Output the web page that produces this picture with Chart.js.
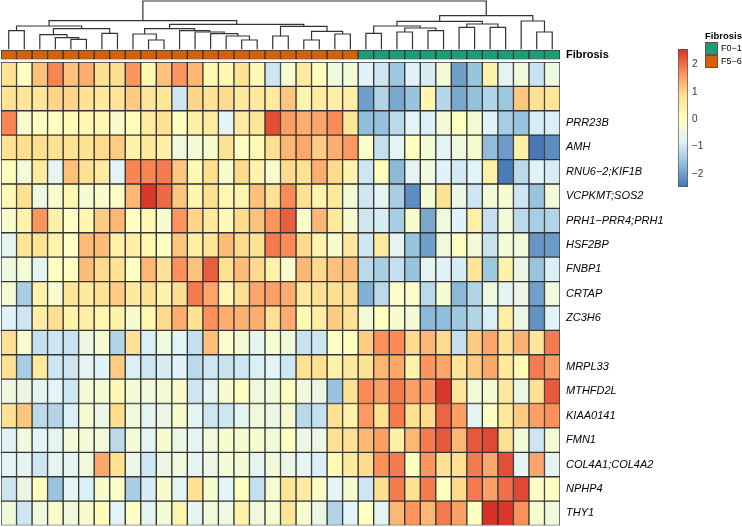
<!DOCTYPE html>
<html><head><meta charset="utf-8">
<script src="https://cdn.jsdelivr.net/npm/chart.js@4.4.1/dist/chart.umd.min.js"></script>
<style>
html,body{margin:0;padding:0;background:#fff;width:742px;height:527px;overflow:hidden;font-family:"Liberation Sans",Arial,sans-serif;}
canvas{position:absolute;}
.lt{position:absolute;font-family:"Liberation Sans",Arial,sans-serif;color:#000;white-space:nowrap;}
.box{position:absolute;width:11px;height:11px;border:1px solid #555;}
</style></head><body>
<canvas id="heat" width="742" height="527" style="left:0;top:0"></canvas>
<canvas id="annot" width="742" height="66" style="left:0;top:0"></canvas>
<canvas id="dendro" width="570" height="52" style="left:0;top:0"></canvas>
<canvas id="key" width="60" height="160" style="left:670px;top:40px"></canvas>
<div class="lt" style="left:705px;top:30px;font-size:9.5px;font-weight:bold;">Fibrosis</div>
<div class="box" style="left:705px;top:42px;background:#1B9E77"></div>
<div class="box" style="left:705px;top:55px;background:#D95F02"></div>
<div class="lt" style="left:721px;top:43px;font-size:9px;">F0−1</div>
<div class="lt" style="left:721px;top:56px;font-size:9px;">F5−6</div>
<script>
// ---- data ----
const rowLabels = ['', '', 'PRR23B', 'AMH', 'RNU6−2;KIF1B', 'VCPKMT;SOS2', 'PRH1−PRR4;PRH1', 'HSF2BP', 'FNBP1', 'CRTAP', 'ZC3H6', '', 'MRPL33', 'MTHFD2L', 'KIAA0141', 'FMN1', 'COL4A1;COL4A2', 'NPHP4', 'THY1'];
const fibrosisGroup = ['F5−6','F5−6','F5−6','F5−6','F5−6','F5−6','F5−6','F5−6','F5−6','F5−6','F5−6','F5−6','F5−6','F5−6','F5−6','F5−6','F5−6','F5−6','F5−6','F5−6','F5−6','F5−6','F5−6',
  'F0−1','F0−1','F0−1','F0−1','F0−1','F0−1','F0−1','F0−1','F0−1','F0−1','F0−1','F0−1','F0−1'];
const groupColors = {'F0−1':'#1B9E77','F5−6':'#D95F02'};

const row00 = [0.8,0.0,1.2,1.8,1.2,1.4,0.9,0.9,1.65,0.3,1.2,1.65, 1.3,0.3,0.3,0.8,0.2,-1.0,-0.2,0.6,0.1,-0.4,-0.3,-0.8, -1.0,-1.5,-0.8,-0.9,-0.3,-2.0,-1.55,0.4,-0.7,-0.4,-1.05,-0.45];
const row01 = [0.8,0.75,0.75,1.0,1.0,0.8,0.65,0.75,1.1,0.75,0.75,-1.0, 1.0,0.8,0.95,0.65,0.65,0.6,1.15,0.35,0.6,0.5,0.5,-2.0, -1.3,-1.9,-1.55,0.3,-1.25,-1.9,-1.6,-1.3,-1.5,1.15,0.85,0.75];
const rowPRR23B = [1.8,-0.15,0.05,0.05,0.15,0.25,0.3,-0.15,0.1,0.6,0.8,0.0, 0.5,0.6,-0.75,0.6,0.7,2.3,1.55,1.4,1.5,1.75,0.75,-1.65, -1.6,-1.2,-0.75,-0.85,-0.3,0.05,-0.25,-0.8,-1.4,-1.55,-0.9,-0.85];
const rowAMH = [0.85,0.9,0.9,0.85,0.8,0.8,0.95,1.1,0.4,0.65,0.45,-0.4, -0.3,-0.15,0.8,0.05,0.2,0.85,1.3,1.45,1.1,1.4,1.6,-0.1, -1.1,-0.7,0.05,-0.25,-0.7,-0.4,-0.15,-1.65,-2.05,0.45,-2.45,-2.2];
const rowRNU6 = [0.1,-0.3,0.6,-0.7,1.2,0.85,0.6,-0.75,1.8,1.8,1.9,1.15, 0.2,0.9,-0.15,0.95,0.4,-0.15,0.95,0.85,1.4,0.95,0.4,-1.0, 0.1,-1.7,-0.7,-0.4,-0.8,-0.95,-0.75,0.45,-2.4,-1.2,-0.8,-0.9];
const rowVCPKMT = [0.2,0.85,-0.4,-0.15,0.3,-0.2,-0.15,-0.05,1.3,2.5,2.05,1.15, 0.3,0.85,0.3,0.35,1.2,0.85,1.75,0.85,0.4,0.65,-0.3,-1.0, -0.7,-1.4,-2.2,-0.25,0.8,-0.5,-1.0,-0.3,-0.2,-1.0,-1.55,-0.3];
const rowPRH1 = [-0.15,0.4,1.65,0.45,-0.05,0.3,1.1,1.3,0.05,0.3,-0.2,1.65, 1.0,0.65,0.2,0.95,1.2,1.65,2.15,-0.15,1.3,0.65,-0.25,-1.0, -0.9,-1.4,-0.15,-1.9,-0.4,-0.8,0.45,-1.1,-0.3,-1.2,-1.4,-1.3];
const rowHSF2BP = [-0.7,0.75,0.8,0.4,-0.05,1.25,1.25,0.4,0.5,0.3,0.0,1.15, 0.5,0.75,1.25,0.95,0.85,1.9,1.75,0.95,0.4,-0.15,0.65,-1.0, 0.6,-0.7,-1.55,-2.0,-0.4,0.0,-0.3,-1.05,-0.3,-0.35,-2.1,-2.05];
const rowFNBP1 = [-0.4,-0.3,-0.7,0.05,0.05,1.25,0.95,0.85,0.05,1.3,0.85,1.7, 1.2,2.15,0.85,1.25,0.95,0.4,-0.15,1.3,0.95,1.2,1.25,-1.2, -1.4,-1.1,-1.55,-0.7,-0.8,-0.9,0.75,-1.5,0.4,-0.5,-1.55,-0.85];
const rowCRTAP = [-0.25,-1.4,0.4,-0.2,0.75,0.65,0.85,1.1,0.65,0.85,0.4,0.9, 1.9,1.5,0.3,0.9,1.5,1.55,1.4,0.65,0.85,0.9,0.9,-1.8, -1.2,-0.1,-0.1,-1.2,-0.25,-1.7,-1.3,-0.4,-0.7,-0.5,-2.0,-0.4];
const rowZC3H6 = [-0.8,-1.0,0.5,0.9,0.4,0.5,0.3,0.4,-0.2,0.3,0.95,1.4, 0.85,1.7,1.4,1.35,1.4,0.85,1.4,0.2,0.5,1.1,0.85,-0.3, 0.05,-0.15,-0.3,-1.7,-1.65,-1.5,-1.3,-0.85,0.5,-0.5,-2.15,-0.8];
const row11 = [0.85,-0.2,-1.1,-1.0,-1.05,-0.5,-0.25,-1.3,0.85,-0.85,-0.4,-0.75, -1.1,1.2,-0.1,-0.25,-0.7,-0.2,-0.35,-1.05,-1.0,-0.05,0.05,1.1, 1.7,1.75,0.95,1.3,0.95,-1.1,1.1,1.5,0.85,1.35,0.75,1.9];
const rowMRPL33 = [0.85,-1.4,0.65,-1.0,-1.0,-0.7,-0.8,1.1,-0.85,-1.0,-0.9,-0.8, -1.2,-1.0,-1.05,-1.0,-0.85,-0.75,-1.0,0.85,0.85,0.4,0.65,0.8, 1.3,1.45,0.4,1.65,1.5,0.75,1.1,1.45,0.65,0.2,1.9,1.55];
const rowMTHFD2L = [-0.4,-0.5,-0.7,-0.75,-1.0,-0.3,-0.25,0.2,-0.3,-0.35,-0.25,-0.15, -1.0,-0.7,-0.15,0.0,-0.4,-0.35,0.0,-0.4,-0.5,-1.55,0.85,1.75, 1.55,1.9,1.55,1.65,2.5,0.75,-0.3,-0.2,0.65,-0.5,0.85,2.2];
const rowKIAA0141 = [0.85,1.15,-1.2,-1.3,-0.85,-0.25,-0.5,0.9,-0.35,-0.7,-0.5,-0.15, -0.7,-1.0,-1.0,-0.7,-0.35,-0.5,-0.25,-1.2,-1.1,0.85,0.4,1.6, 0.85,1.9,0.85,0.95,2.1,1.55,-0.7,-0.05,0.65,1.1,1.55,1.7];
const rowFMN1 = [-0.8,-0.4,-0.75,-0.7,-0.3,-0.3,-0.35,-1.2,-0.3,-0.7,-0.2,-0.5, -0.7,-0.35,-0.2,-0.2,-0.2,-0.35,-0.05,-0.5,-0.5,0.85,0.85,1.3, 1.55,0.45,1.3,1.9,2.2,1.3,2.2,2.35,0.85,-0.3,-1.0,-0.25];
const rowCOL4A1 = [-0.75,-0.7,-1.0,-0.7,-0.7,-0.35,1.45,0.85,-0.5,-1.0,-0.5,-0.4, -0.7,-0.5,-0.3,-0.25,-0.7,-0.35,-0.5,-0.7,-0.85,0.2,0.65,0.95, 1.7,1.9,0.05,1.65,0.85,0.85,1.9,1.45,2.3,-0.7,1.5,-0.7];
const rowNPHP4 = [-1.0,-0.5,0.05,-1.55,-0.7,-0.85,-0.15,-0.05,-1.4,-0.9,-0.15,-0.7, 0.85,-0.2,-0.75,0.05,-1.1,-0.25,0.75,0.6,-0.05,-0.75,-0.2,-1.0, 0.9,1.9,0.85,1.9,0.05,0.95,1.9,1.55,2.0,2.35,-0.05,0.05];
const rowTHY1 = [-0.35,-1.0,-0.4,-0.15,-0.35,-0.15,0.15,-0.75,-0.05,-0.7,-0.3,0.35, -0.7,-0.35,-0.4,0.4,-0.35,-0.25,0.75,-0.2,-0.5,-1.3,-0.75,0.05, -0.7,1.3,1.65,1.3,1.9,1.55,0.05,2.55,2.5,1.7,-0.2,-0.35];

const rows = [row00,row01,rowPRR23B,rowAMH,rowRNU6,rowVCPKMT,rowPRH1,rowHSF2BP,rowFNBP1,rowCRTAP,rowZC3H6,row11,rowMRPL33,rowMTHFD2L,rowKIAA0141,rowFMN1,rowCOL4A1,rowNPHP4,rowTHY1];

// column dendrogram: merges [left, right] (negative = leaf, positive = merge number) and heights
const mergeLeft  = [-1,-5,-4,-3,-7,4,1,-10,-9,-16,-15,-14,-13,-12,9,-18,-20,-22,17,16,15,7,-24,-26,-28,24,23,-30,-32,28,27,-35,-34,31,22];
const mergeRight = [-2,-6,2,3,-8,5,6,-11,8,-17,10,11,12,13,14,-19,-21,-23,18,19,20,21,-25,-27,-29,25,26,-31,-33,29,30,-36,32,33,34];
const mergeHeight = [18.6,10,11.6,14.6,16,20.6,23.3,9.3,15.3,9.3,13.3,15.6,17.3,18.6,20.6,13.3,9.3,15.3,18,23,25,28.6,16,17.3,18.6,21.3,23.3,22,22,25.3,28,17.3,28.3,33.6,48.3];

const keyMin = -2.48, keyMax = 2.57;
const keyTicks = [-2,-1,0,1,2];
const palette = ['#4575B4','#91BFDB','#E0F3F8','#FFFFBF','#FEE090','#FC8D59','#D73027'];

// ---- helpers ----
const nCols = fibrosisGroup.length;
function hex2rgb(h){return [parseInt(h.slice(1,3),16),parseInt(h.slice(3,5),16),parseInt(h.slice(5,7),16)];}
const palRGB = palette.map(hex2rgb);
function valueColor(v){
  let t=(v-keyMin)/(keyMax-keyMin); t=Math.max(0,Math.min(1,t));
  const p=t*(palette.length-1); const i=Math.min(palette.length-2,Math.floor(p)); const f=p-i;
  const a=palRGB[i], b=palRGB[i+1];
  return 'rgb('+a.map((c,k)=>Math.round(c+(b[k]-c)*f)).join(',')+')';
}
const minus = s => String(s).replace('-', '−');
function fixWidth(w){ return s => { s.width = w; s.paddingTop = 0; s.paddingBottom = 0; }; }

// ---- heatmap ----
const heatSets = [];
for (let c=0;c<nCols;c++){
  heatSets.push({
    label:'sample '+(c+1),
    data: rows.map(()=>1),
    backgroundColor: rows.map(r=>valueColor(r[c])),
    borderColor:'#333', borderWidth:1, borderSkipped:false,
    categoryPercentage:1, barPercentage:1
  });
}
new Chart(document.getElementById('heat'), {
  type:'bar',
  data:{labels:rowLabels, datasets:heatSets},
  options:{
    indexAxis:'y', responsive:false, animation:false,
    layout:{padding:{left:1,top:62,bottom:1.5,right:0}},
    plugins:{legend:{display:false}, tooltip:{enabled:false}},
    scales:{
      x:{stacked:true, display:false, min:0, max:nCols},
      y:{stacked:true, position:'right', grid:{display:false, drawTicks:false}, border:{display:false},
         ticks:{font:{family:'Liberation Sans', size:11, style:'italic'}, color:'#000', padding:6, autoSkip:false},
         afterFit:fixWidth(182)}
    }
  }
});

// ---- annotation row ----
const annSets = fibrosisGroup.map((g,c)=>({
  label:g, data:[1], backgroundColor:groupColors[g],
  borderColor:'#333', borderWidth:1, borderSkipped:false,
  categoryPercentage:1, barPercentage:1
}));
new Chart(document.getElementById('annot'), {
  type:'bar',
  data:{labels:['Fibrosis'], datasets:annSets},
  options:{
    indexAxis:'y', responsive:false, animation:false,
    layout:{padding:{left:1,top:50,bottom:6.5,right:0}},
    plugins:{legend:{display:false}, tooltip:{enabled:false}},
    scales:{
      x:{stacked:true, display:false, min:0, max:nCols},
      y:{stacked:true, position:'right', grid:{display:false, drawTicks:false}, border:{display:false},
         ticks:{font:{family:'Liberation Sans', size:11, weight:'bold'}, color:'#000', padding:6},
         afterFit:fixWidth(182)}
    }
  }
});

// ---- dendrogram ----
const nodeX = [], nodeH = [];
function pos(id){ return id<0 ? [(-id-1)+0.5, 0] : [nodeX[id-1], nodeH[id-1]]; }
const dendroSets = [];
for (let m=0;m<mergeLeft.length;m++){
  const [xa,ha]=pos(mergeLeft[m]); const [xb,hb]=pos(mergeRight[m]); const h=mergeHeight[m];
  nodeX.push((xa+xb)/2); nodeH.push(h);
  dendroSets.push({data:[{x:xa,y:ha},{x:xa,y:h},{x:xb,y:h},{x:xb,y:hb}], showLine:true, pointRadius:0,
    borderColor:'#333', borderWidth:1.2, fill:false, clip:false, tension:0});
}
new Chart(document.getElementById('dendro'), {
  type:'scatter',
  data:{datasets:dendroSets},
  options:{
    responsive:false, animation:false,
    layout:{padding:{left:1,right:10,top:1,bottom:2.7}},
    plugins:{legend:{display:false}, tooltip:{enabled:false}},
    scales:{x:{type:'linear',min:0,max:nCols,display:false}, y:{type:'linear',min:0,max:48.3,display:false}}
  }
});

// ---- colour key ----
new Chart(document.getElementById('key'), {
  type:'bar',
  data:{labels:['key'], datasets:[{
    data:[[keyMin,keyMax]],
    backgroundColor(ctx){
      const a=ctx.chart.chartArea; if(!a) return palette[3];
      const g=ctx.chart.ctx.createLinearGradient(0,a.bottom,0,a.top);
      palette.forEach((c,i)=>g.addColorStop(i/(palette.length-1),c));
      return g;
    },
    borderColor:'#555', borderWidth:1, borderSkipped:false, categoryPercentage:1, barPercentage:1
  }]},
  options:{
    responsive:false, animation:false,
    layout:{padding:{left:8,top:9,bottom:13,right:0}},
    plugins:{legend:{display:false}, tooltip:{enabled:false}},
    scales:{
      x:{display:false},
      y:{min:keyMin, max:keyMax, position:'right', grid:{display:false, drawTicks:false}, border:{display:false},
         afterBuildTicks(s){ s.ticks = keyTicks.map(v=>({value:v})); },
         ticks:{font:{family:'Liberation Sans', size:10}, color:'#333', padding:4, callback:v=>minus(v)},
         afterFit:fixWidth(42)}
    }
  }
});
</script>
</body></html>
